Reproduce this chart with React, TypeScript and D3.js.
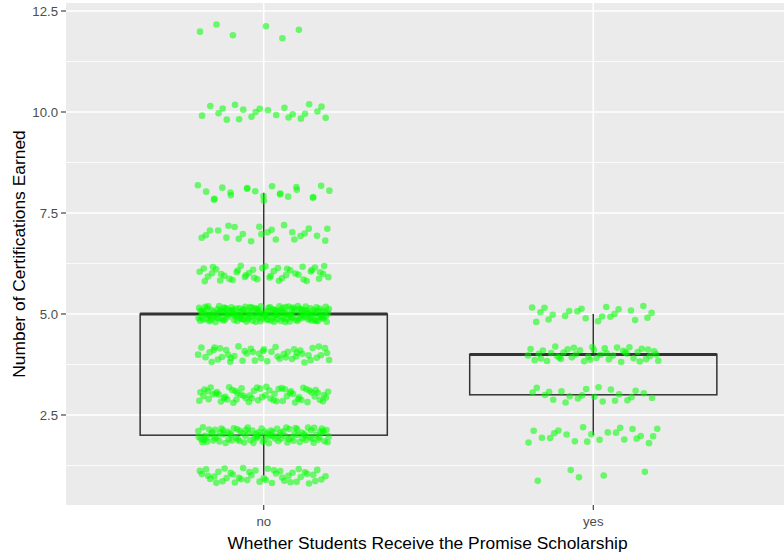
import React from "react";
import * as d3 from "d3";

// Data: number of certifications per group (counts of students at each level)
const categories = ["no", "yes"];
const levels = [1, 2, 3, 4, 5, 6, 7, 8, 10, 12];
const countsNo = [45, 100, 65, 50, 170, 45, 24, 22, 22, 6];
const countsYes = [5, 22, 22, 45, 22, 0, 0, 0, 0, 0];
const yTicks = [2.5, 5.0, 7.5, 10.0, 12.5];
const yMinor = [1.25, 3.75, 6.25, 8.75, 11.25];

const W = 784;
const H = 553;
const panel = { left: 66, right: 791, top: 3, bottom: 505 };

function halton(i: number, b: number) {
  let f = 1, r = 0;
  while (i > 0) {
    f = f / b;
    r = r + f * (i % b);
    i = Math.floor(i / b);
  }
  return r;
}

function expand(counts: number[]) {
  const vals: number[] = [];
  levels.forEach((l, i) => {
    for (let k = 0; k < counts[i]; k++) vals.push(l);
  });
  return vals;
}

const groups = [expand(countsNo), expand(countsYes)];

export default function App() {
  const x = d3.scaleLinear().domain([0.4, 2.6]).range([panel.left, panel.right]);
  const y = d3.scaleLinear().domain([0.272, 12.698]).range([panel.bottom, panel.top]);
  const px = (u: number) => x(u) - x(0);

  const boxes = groups.map((vals, gi) => {
    const s = [...vals].sort((a, b) => a - b);
    const q1 = d3.quantile(s, 0.25)!;
    const med = d3.quantile(s, 0.5)!;
    const q3 = d3.quantile(s, 0.75)!;
    const iqr = q3 - q1;
    const lo = d3.min(s.filter((v) => v >= q1 - 1.5 * iqr))!;
    const hi = d3.max(s.filter((v) => v <= q3 + 1.5 * iqr))!;
    return { gi, q1, med, q3, lo, hi };
  });

  const points: { cx: number; cy: number }[] = [];
  let k = 1;
  groups.forEach((vals, gi) => {
    vals.forEach((v) => {
      const dx = (halton(k, 2) * 2 - 1) * 0.2;
      const dy = (halton(k, 3) * 2 - 1) * 0.2;
      points.push({ cx: x(gi + 1 + dx), cy: y(v + dy) });
      k++;
    });
  });

  const font = "'Liberation Sans', Arial, sans-serif";

  return (
    <svg width={W} height={H} style={{ position: "absolute", left: 0, top: 0, background: "#fff" }} fontFamily={font}>
      <defs>
        <clipPath id="pc">
          <rect x={panel.left} y={panel.top} width={panel.right - panel.left} height={panel.bottom - panel.top} />
        </clipPath>
      </defs>
      <rect x={panel.left} y={panel.top} width={panel.right - panel.left} height={panel.bottom - panel.top} fill="#EBEBEB" />
      <g clipPath="url(#pc)">
        {yMinor.map((t) => (
          <line key={"m" + t} x1={panel.left} x2={panel.right} y1={y(t)} y2={y(t)} stroke="#fff" strokeWidth={0.8} />
        ))}
        {yTicks.map((t) => (
          <line key={"g" + t} x1={panel.left} x2={panel.right} y1={y(t)} y2={y(t)} stroke="#fff" strokeWidth={1.6} />
        ))}
        {categories.map((c, i) => (
          <line key={"v" + c} x1={x(i + 1)} x2={x(i + 1)} y1={panel.top} y2={panel.bottom} stroke="#fff" strokeWidth={1.6} />
        ))}
        {boxes.map((b) => {
          const cx = x(b.gi + 1);
          const hw = px(0.375);
          return (
            <g key={"b" + b.gi} stroke="#333333" fill="none">
              <line x1={cx} x2={cx} y1={y(b.hi)} y2={y(b.q3)} strokeWidth={1.5} />
              <line x1={cx} x2={cx} y1={y(b.q1)} y2={y(b.lo)} strokeWidth={1.5} />
              <rect x={cx - hw} y={y(b.q3)} width={2 * hw} height={y(b.q1) - y(b.q3)} strokeWidth={1.5} />
              <line x1={cx - hw} x2={cx + hw} y1={y(b.med)} y2={y(b.med)} strokeWidth={3} />
            </g>
          );
        })}
        {points.map((p, i) => (
          <circle key={i} cx={p.cx} cy={p.cy} r={3.3} fill="#00FF00" fillOpacity={0.55} />
        ))}
      </g>
      {yTicks.map((t) => (
        <g key={"yt" + t}>
          <line x1={panel.left - 5} x2={panel.left} y1={y(t)} y2={y(t)} stroke="#333" strokeWidth={1.1} />
          <text x={panel.left - 8} y={y(t)} dy="0.35em" textAnchor="end" fontSize={13.2} fill="#4D4D4D">
            {t.toFixed(1)}
          </text>
        </g>
      ))}
      {categories.map((c, i) => (
        <g key={"xt" + c}>
          <line x1={x(i + 1)} x2={x(i + 1)} y1={panel.bottom} y2={panel.bottom + 5} stroke="#333" strokeWidth={1.1} />
          <text x={x(i + 1)} y={panel.bottom + 21} textAnchor="middle" fontSize={13.2} fill="#4D4D4D">
            {c}
          </text>
        </g>
      ))}
      <text x={(panel.left + panel.right) / 2 - 1} y={549} textAnchor="middle" fontSize={17.4} fill="#000">
        Whether Students Receive the Promise Scholarship
      </text>
      <text
        transform={`translate(25, ${(panel.top + panel.bottom) / 2}) rotate(-90)`}
        textAnchor="middle"
        fontSize={17.4}
        fill="#000"
      >
        Number of Certifications Earned
      </text>
    </svg>
  );
}
